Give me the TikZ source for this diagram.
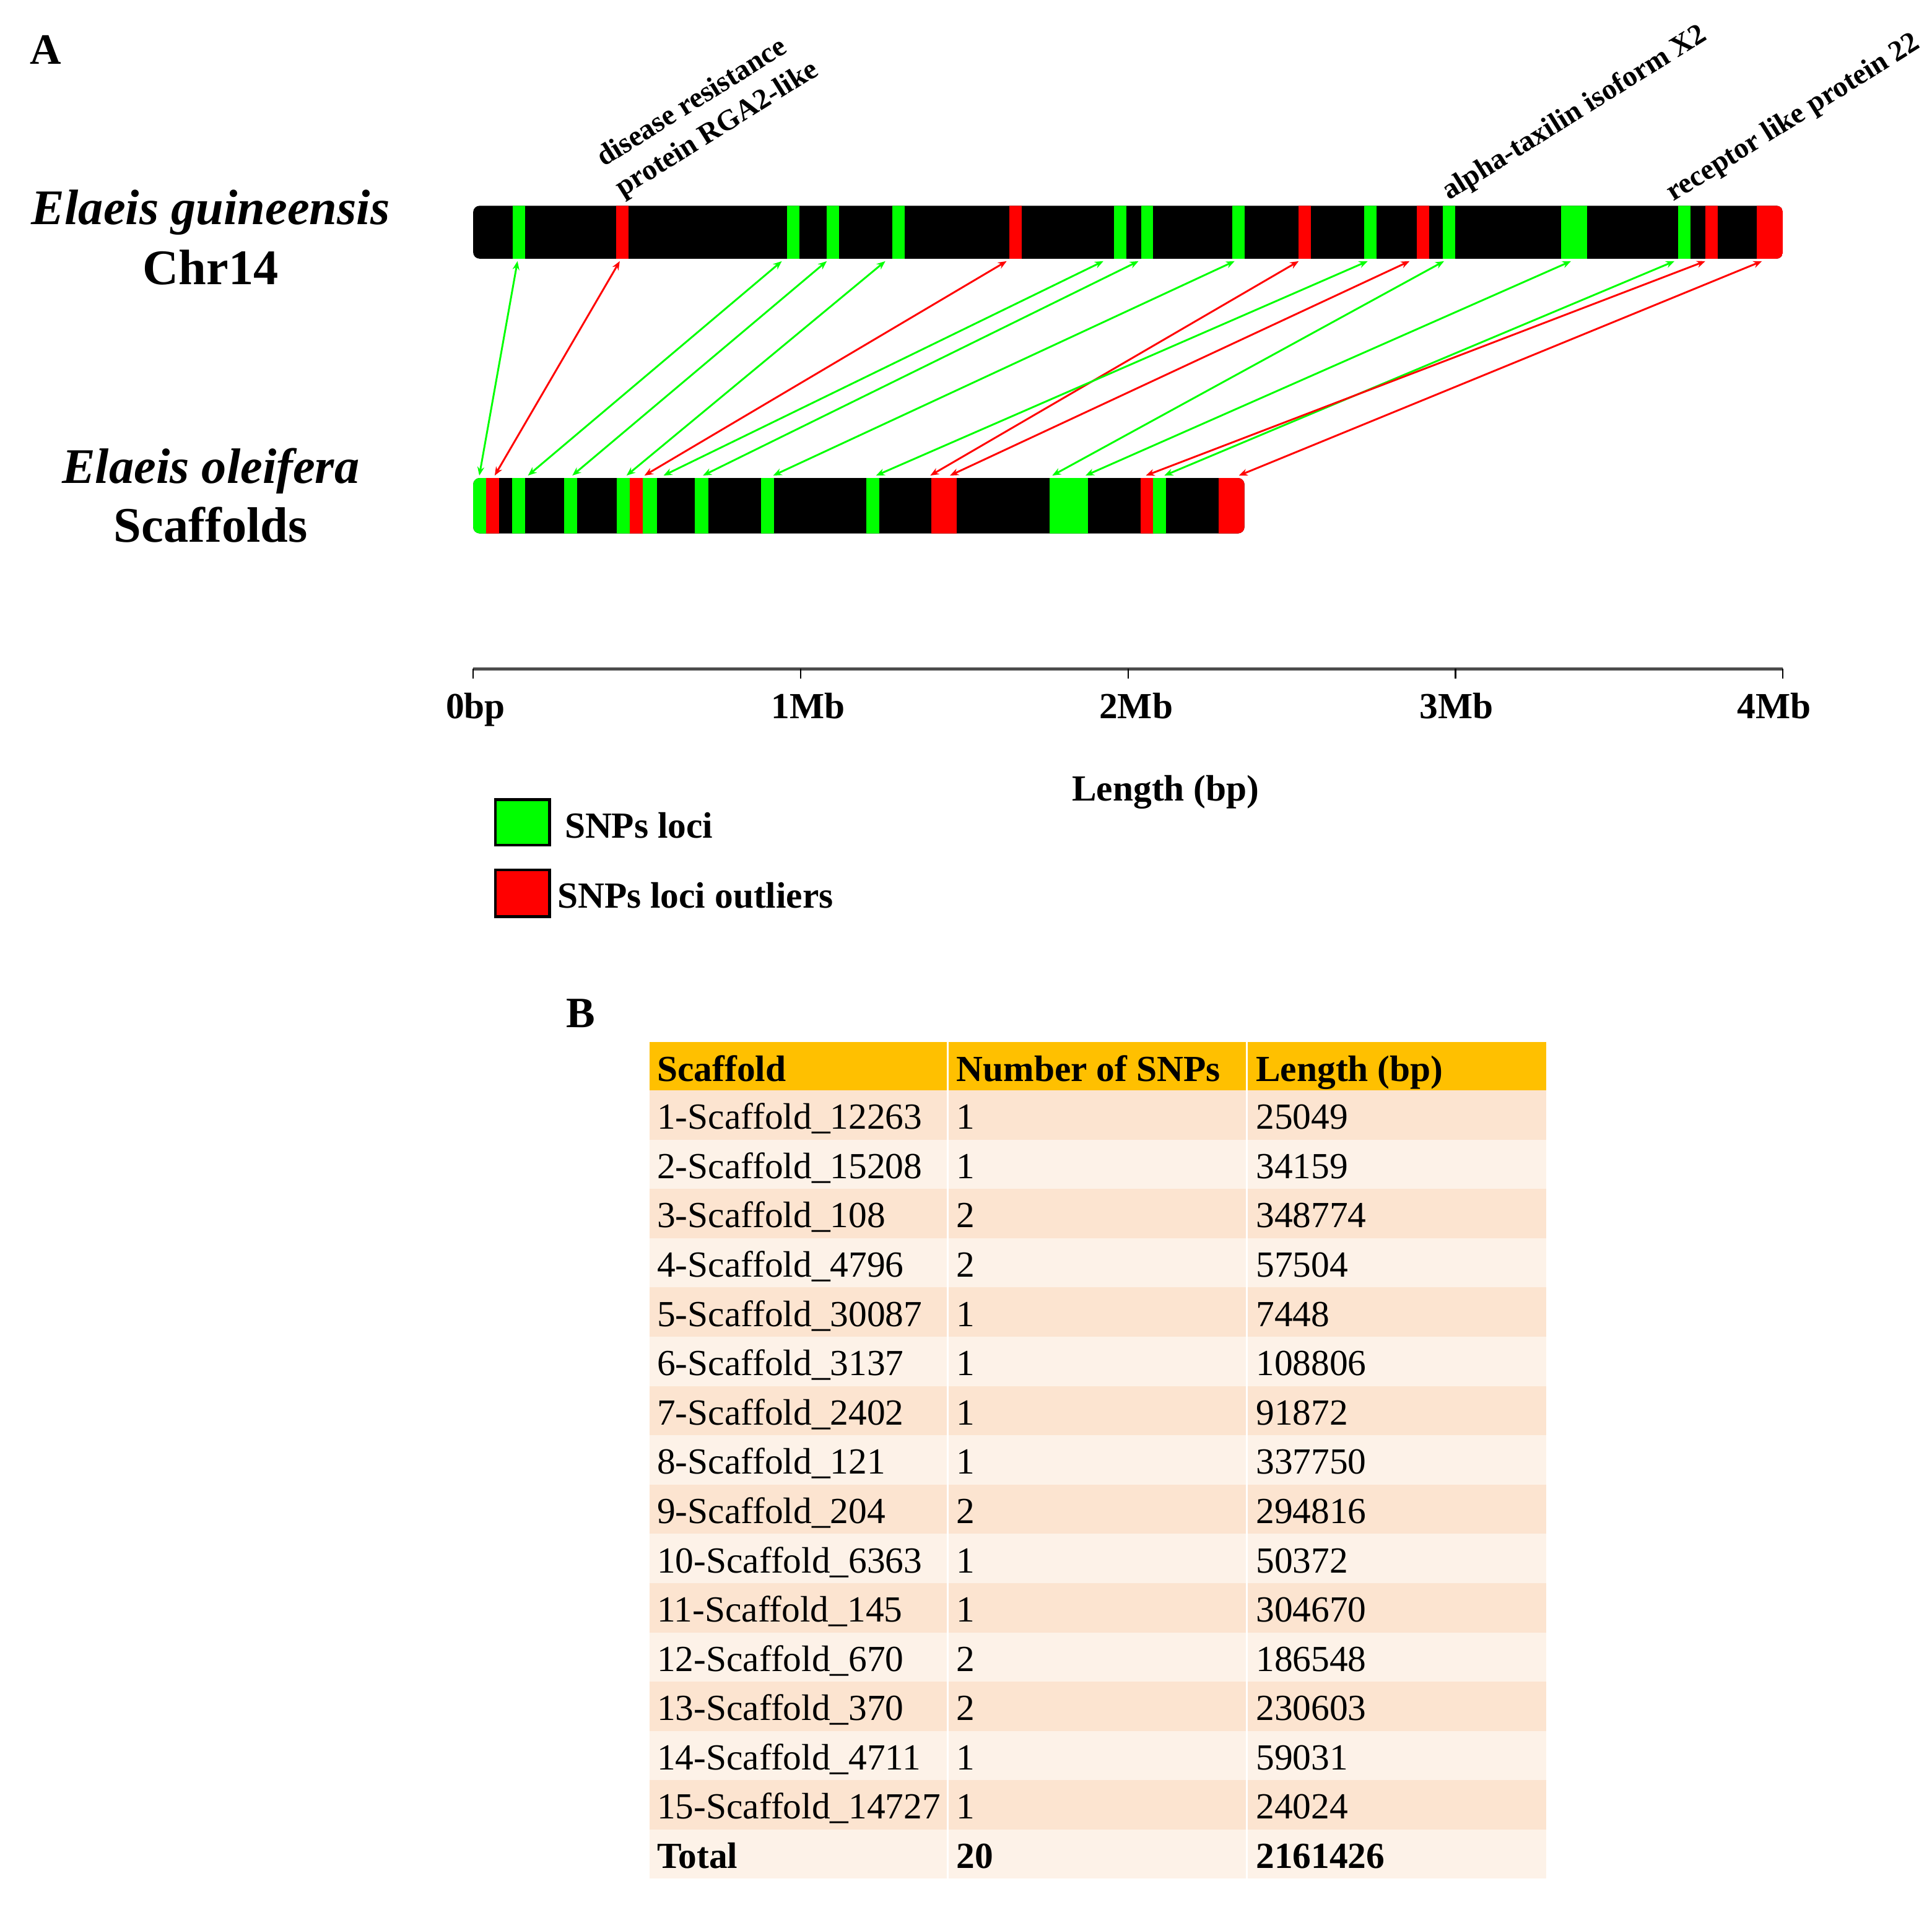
\documentclass[tikz,border=0pt]{standalone}
\usepackage{fontspec}
\setmainfont{Liberation Serif}
\usetikzlibrary{arrows.meta}
\definecolor{snpgreen}{RGB}{0,255,0}
\definecolor{snpred}{RGB}{255,0,0}
\definecolor{headorange}{RGB}{255,192,0}
\definecolor{rowdark}{RGB}{252,228,208}
\definecolor{rowlight}{RGB}{253,242,232}
\newcommand{\letterfont}{\fontsize{20}{24}\selectfont\bfseries}
\newcommand{\speciesfont}{\fontsize{23}{27}\selectfont\bfseries}
\newcommand{\genefont}{\fontsize{13.5}{16.5}\selectfont\bfseries}
\newcommand{\cellfont}{\fontsize{17}{20}\selectfont}
\tikzstyle{lbl}=[inner sep=0pt,anchor=base west]
\tikzstyle{spname}=[inner sep=0pt,anchor=base,font=\speciesfont]
\tikzstyle{genelbl}=[inner sep=0pt,rotate=32,font=\genefont]
\tikzstyle{snplink}=[line width=0.85pt,{Stealth[length=4pt,width=3.2pt]}-{Stealth[length=4pt,width=3.2pt]}]
% one band on the clipped bar: [colour]{left x}{right x}
\newcommand{\snpband}[3][snpgreen]{\fill[#1] (#2,100) rectangle (#3,500);}

\begin{document}
\begin{tikzpicture}[x=0.02cm,y=-0.02cm]
\useasboundingbox (0,0) rectangle (1568,1554);

\node[lbl,font=\letterfont] (panelA) at (24,52) {A};
\node[lbl,font=\letterfont] (panelB) at (459,834) {B};

\node[spname] (guiname) at (171,182) {\itshape Elaeis guineensis};
\node[spname] (guichr) at (171,231) {Chr14};
\node[spname] (olename) at (171,392) {\itshape Elaeis oleifera};
\node[spname] (olescf) at (171,440) {Scaffolds};

% Chr14
\begin{scope}
	\clip[rounded corners=3pt] (384,167) rectangle (1447,210);
	\fill[black] (384,167) rectangle (1447,210);
	\snpband{416}{426} \snpband[snpred]{500}{510}
	\snpband{639}{649} \snpband{671}{681} \snpband{724}{734}
	\snpband[snpred]{819}{829}
	\snpband{904}{914} \snpband{926}{936} \snpband{1000}{1010}
	\snpband[snpred]{1054}{1064} \snpband{1107}{1117}
	\snpband[snpred]{1150}{1160} \snpband{1171}{1181}
	\snpband{1267}{1288} \snpband{1362}{1372}
	\snpband[snpred]{1384}{1394} \snpband[snpred]{1426}{1447}
\end{scope}

% scaffolds
\begin{scope}
	\clip[rounded corners=3pt] (384,388) rectangle (1010,433);
	\fill[black] (384,388) rectangle (1010,433);
	\snpband{384}{394.5} \snpband[snpred]{394.5}{405}
	\snpband{415.5}{426} \snpband{458}{468.5}
	\snpband{500.5}{511} \snpband[snpred]{511}{521.5} \snpband{521.5}{533}
	\snpband{564}{575} \snpband{617.5}{628} \snpband{703}{713.5}
	\snpband[snpred]{756}{776.5} \snpband{852}{883}
	\snpband[snpred]{925.5}{936} \snpband{936}{946.5}
	\snpband[snpred]{989}{1010}
\end{scope}

\foreach \tx/\bx/\col [count=\k] in {420/389/snpgreen, 503/401.5/snpred, 634.5/428.5/snpgreen,
	671/464.5/snpgreen, 718.5/508.5/snpgreen, 817/523/snpred, 895.5/538.5/snpgreen,
	924/570.5/snpgreen, 1002/627.5/snpgreen, 1054/755/snpred, 1110/711/snpgreen,
	1144/771/snpred, 1172/854/snpgreen, 1275/881/snpgreen, 1359/945/snpgreen,
	1384/930/snpred, 1430/1005.5/snpred} {
	\coordinate (up\k) at (\tx,212);
	\coordinate (dn\k) at (\bx,386);
	\draw[snplink,\col] (dn\k) -- (up\k);
}

\node[genelbl,anchor=south west,align=left] (geneRGA) at (508,165) {disease resistance\\protein RGA2-like};
\node[genelbl,anchor=base west] (geneTAX) at (1176,163) {alpha-taxilin isoform X2};
\node[genelbl,anchor=base west] (geneRLP) at (1358,164) {receptor like protein 22};

% axis
\draw[line width=1.6pt,black!70] (384,543) -- (1447,543);
\foreach \tx/\lx/\ticktext in {384/386/0bp, 649.75/656/1Mb, 915.5/922/2Mb, 1181.25/1182/3Mb, 1447/1440/4Mb} {
	\draw[line width=0.6pt] (\tx,543) -- (\tx,551);
	\node[inner sep=0pt,anchor=base,font=\cellfont\bfseries] (tick\ticktext) at (\lx,583) {\ticktext};
}
\node[inner sep=0pt,anchor=base,font=\cellfont\bfseries] (axislabel) at (946,650) {Length (bp)};

% legend
\draw[fill=snpgreen,line width=1.3pt] (402,649) rectangle (446,686);
\node[lbl,font=\cellfont\bfseries] (leggreen) at (458,680) {SNPs loci};
\draw[fill=snpred,line width=1.3pt] (402,706) rectangle (446,744);
\node[lbl,font=\cellfont\bfseries] (legred) at (452,737) {SNPs loci outliers};

% table
\fill[headorange] (527,846) rectangle (1255,885);
\node[lbl,font=\cellfont\bfseries] (hscf) at (533,877.5) {Scaffold};
\node[lbl,font=\cellfont\bfseries] (hsnp) at (776,877.5) {Number of SNPs};
\node[lbl,font=\cellfont\bfseries] (hlen) at (1019,877.5) {Length (bp)};
\foreach \scfname/\snpnum/\scflen [count=\row] in {1-Scaffold\_12263/1/25049, 2-Scaffold\_15208/1/34159,
	3-Scaffold\_108/2/348774, 4-Scaffold\_4796/2/57504, 5-Scaffold\_30087/1/7448,
	6-Scaffold\_3137/1/108806, 7-Scaffold\_2402/1/91872, 8-Scaffold\_121/1/337750,
	9-Scaffold\_204/2/294816, 10-Scaffold\_6363/1/50372, 11-Scaffold\_145/1/304670,
	12-Scaffold\_670/2/186548, 13-Scaffold\_370/2/230603, 14-Scaffold\_4711/1/59031,
	15-Scaffold\_14727/1/24024} {
	\pgfmathsetmacro{\rowtop}{885+40*(\row-1)}
	\ifodd\row\relax
		\fill[rowdark] (527,\rowtop) rectangle (1255,\rowtop+40);
	\else
		\fill[rowlight] (527,\rowtop) rectangle (1255,\rowtop+40);
	\fi
	\node[lbl,font=\cellfont] (scf\row) at (533,\rowtop+31.5) {\scfname};
	\node[lbl,font=\cellfont] (snp\row) at (776,\rowtop+31.5) {\snpnum};
	\node[lbl,font=\cellfont] (len\row) at (1019,\rowtop+31.5) {\scflen};
}
\fill[rowlight] (527,1485) rectangle (1255,1525);
\node[lbl,font=\cellfont\bfseries] (tscf) at (533,1516.5) {Total};
\node[lbl,font=\cellfont\bfseries] (tsnp) at (776,1516.5) {20};
\node[lbl,font=\cellfont\bfseries] (tlen) at (1019,1516.5) {2161426};
\draw[white,line width=0.8pt] (769,846) -- (769,1525) (1012,846) -- (1012,1525);
\end{tikzpicture}
\end{document}
